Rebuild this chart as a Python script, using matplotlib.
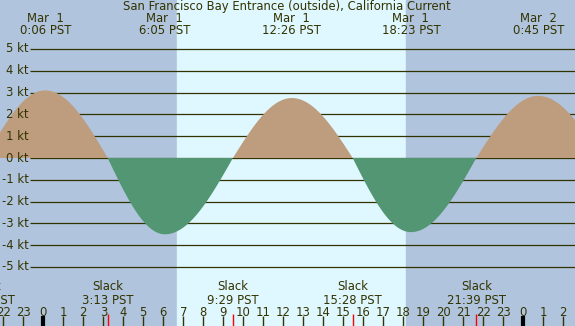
import numpy as np
import matplotlib
matplotlib.use("Agg")
import matplotlib.pyplot as plt

# event times in hours from Mar 1 0:00 PST, current speed in knots
event_hours = [-2.9, 0.1, 3.22, 6.08, 9.48, 12.43, 15.47, 18.38, 21.65, 24.75, 27.9]
event_speed = [0.0, 3.1, 0.0, -3.5, 0.0, 2.75, 0.0, -3.4, 0.0, 2.85, 0.0]

max_hours = [0.1, 6.08, 12.43, 18.38, 24.75]
max_dates = ["Mar  1", "Mar  1", "Mar  1", "Mar  1", "Mar  2"]
max_labels = ["0:06 PST", "6:05 PST", "12:26 PST", "18:23 PST", "0:45 PST"]

slack_hours = [-2.9, 3.22, 9.48, 15.47, 21.65]
slack_labels = ["21:06 PST", "3:13 PST", "9:29 PST", "15:28 PST", "21:39 PST"]

sunrise, sunset = 6.68, 18.13
kt_levels = [5, 4, 3, 2, 1, 0, -1, -2, -3, -4, -5]
title = "San Francisco Bay Entrance (outside), California Current"

night = "#b0c4de"
day = "#dff7ff"
flood = "#bd9d7d"
ebb = "#529673"
ink = "#333300"
fs = 8.4

# quarter-wave curve between the listed events (slack -> max -> slack)
t = []
v = []
for i in range(len(event_hours) - 1):
    t0, t1 = event_hours[i], event_hours[i + 1]
    s0, s1 = event_speed[i], event_speed[i + 1]
    u = np.linspace(0, 1, 80)
    t.extend(t0 + (t1 - t0) * u)
    if s0 == 0:
        v.extend(s1 * np.sin(np.pi / 2 * u))
    else:
        v.extend(s0 * np.cos(np.pi / 2 * u))
t = np.array(t)
v = np.array(v)

# pixel mapping: 20 px per hour, 0h at x=43.3; 21.8 px per kt, 0 kt at y=158
px_h, x0 = 20.0, 43.3
px_kt, y0 = 21.8, 158.0
W, H = 575, 326
xlim = (-x0 / px_h, (W - x0) / px_h)
ylim = (-(H - y0) / px_kt, y0 / px_kt)
def ypix(p):
    return (y0 - p) / px_kt

fig = plt.figure(figsize=(W / 100, H / 100), dpi=100)
ax = fig.add_axes([0, 0, 1, 1])
ax.set_xlim(xlim)
ax.set_ylim(ylim)
ax.axis("off")

ax.axvspan(xlim[0], sunrise, color=night, zorder=0)
ax.axvspan(sunrise, sunset, color=day, zorder=0)
ax.axvspan(sunset, xlim[1], color=night, zorder=0)

gx = (30 - x0) / px_h
for k in kt_levels:
    ax.hlines(k, gx, xlim[1], color=ink, lw=0.9, zorder=1)
    ax.text(gx - 0.05, k, f"{k} kt", ha="right", va="center", fontsize=fs, color=ink)

ax.fill_between(t, 0, v, where=v >= 0, interpolate=True, color=flood, lw=0, zorder=2)
ax.fill_between(t, 0, v, where=v <= 0, interpolate=True, color=ebb, lw=0, zorder=2)

ax.text((287 - x0) / px_h, ypix(6.5), title, ha="center", va="center", fontsize=fs, color=ink)
for h, d, lab in zip(max_hours, max_dates, max_labels):
    ax.text(h, ypix(18), d, ha="center", va="center", fontsize=fs, color=ink)
    ax.text(h, ypix(31), lab, ha="center", va="center", fontsize=fs, color=ink)

for h, lab in zip(slack_hours, slack_labels):
    ax.text(h, ypix(287), "Slack", ha="center", va="center", fontsize=fs, color=ink)
    ax.text(h, ypix(300), lab, ha="center", va="center", fontsize=fs, color=ink)
    ax.vlines(h, ypix(314), ypix(326), color="red", lw=1, zorder=3)

for h in range(-2, 27):
    ax.text(h, ypix(312), str(h % 24), ha="center", va="center", fontsize=fs, color=ink)
    if h % 24 == 0:
        ax.vlines(h, ypix(316), ypix(326), color="black", lw=3, zorder=3)
    else:
        ax.vlines(h, ypix(316), ypix(326), color=ink, lw=1, zorder=3)

fig.savefig("out.png", dpi=100)
